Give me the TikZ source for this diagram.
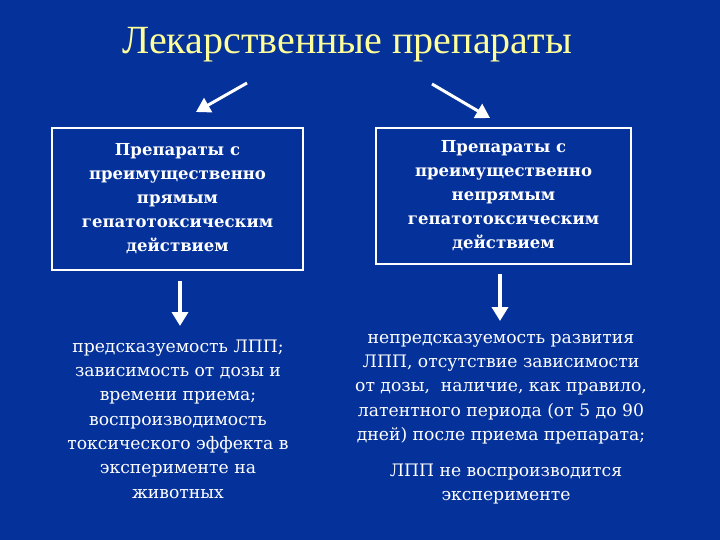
\documentclass[tikz,border=0pt]{standalone}
\usepackage{fontspec}
\setmainfont{DejaVu Serif}
\newfontfamily\ttlfont{Liberation Serif}
\usetikzlibrary{arrows.meta}
\definecolor{bg}{HTML}{05319A}
\definecolor{ttl}{HTML}{FFFF99}
\begin{document}
\begin{tikzpicture}[x=1pt,y=-1pt,
  box/.style={draw=white,line width=2.5pt,minimum width=#1,text=white,font=\bfseries\fontsize{16.5}{24}\selectfont,align=center},
  txt/.style={text=white,font=\fontsize{17.2}{24.3}\selectfont,align=center},
  arr/.style={white,line width=4pt,-{Triangle[length=14pt,width=16pt]}}]
\fill[bg] (0,0) rectangle (720,540);
\node[text=ttl,font=\ttlfont\fontsize{40}{44}\selectfont] (t) at (347,45) {Лекарственные препараты};
\node[box=251pt,minimum height=142pt] (b1) at (177.5,199) {Препараты с\\преимущественно\\прямым\\гепатотоксическим\\действием};
\node[box=255pt,minimum height=136pt] (b2) at (503.5,196) {Препараты с\\преимущественно\\непрямым\\гепатотоксическим\\действием};
\coordinate (a1s) at (247,83); \coordinate (a1e) at (196,112);
\coordinate (a2s) at (432,84); \coordinate (a2e) at (490,118);
\draw[arr,line width=3pt] (a1s) -- (a1e);
\draw[arr,line width=3pt] (a2s) -- (a2e);
\node[txt] (l) at (178,419) {предсказуемость ЛПП;\\зависимость от дозы и\\времени приема;\\воспроизводимость\\токсического эффекта в\\эксперименте на\\животных};
\node[txt] (r) at (501,389) {непредсказуемость развития\\ЛПП, отсутствие зависимости\\от дозы,\ \ наличие, как правило,\\латентного периода (от 5 до 90\\дней) после приема препарата;};
\node[txt] (r2) at (506,484) {ЛПП не воспроизводится\\эксперименте};
\coordinate (d1s) at (180,281); \coordinate (d1e) at (180,326);
\coordinate (d2s) at (500,274); \coordinate (d2e) at (500,321);
\draw[arr] (d1s) -- (d1e);
\draw[arr] (d2s) -- (d2e);
\end{tikzpicture}
\end{document}
